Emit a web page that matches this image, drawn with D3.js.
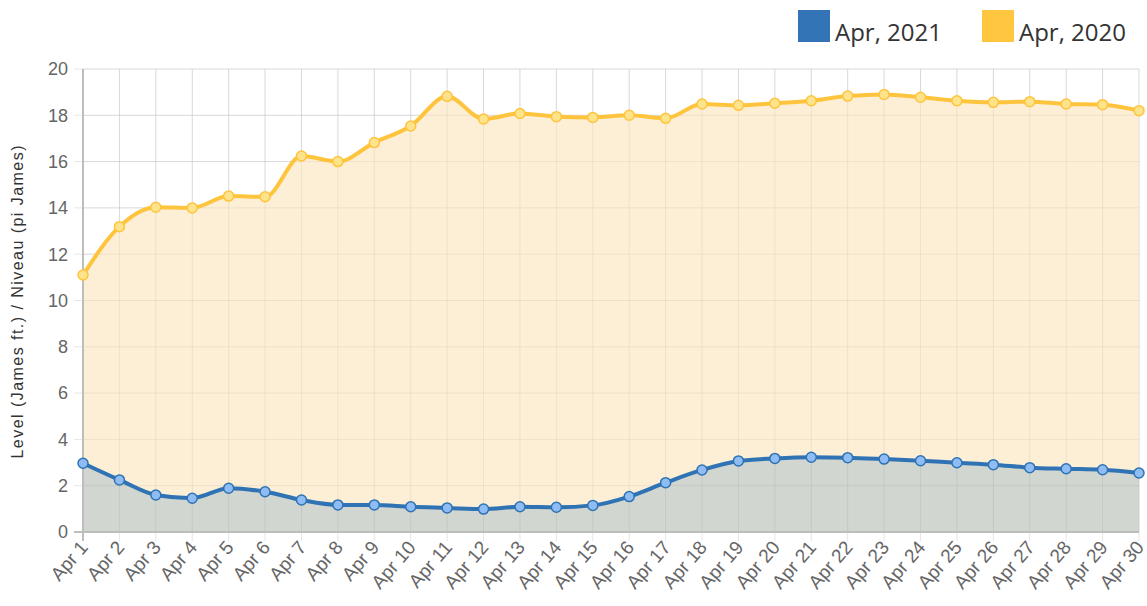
<!DOCTYPE html>
<html lang="en">
<head>
<meta charset="UTF-8">
<title>Level chart</title>
<style>
  body { margin: 0; background: #fff; }
  svg { display: block; font-family: "Liberation Sans", Arial, sans-serif; }
</style>
</head>
<body>
<script src="https://d3js.org/d3.v7.min.js"></script>
<script>
// data
var days = ["Apr 1","Apr 2","Apr 3","Apr 4","Apr 5","Apr 6","Apr 7","Apr 8","Apr 9","Apr 10",
  "Apr 11","Apr 12","Apr 13","Apr 14","Apr 15","Apr 16","Apr 17","Apr 18","Apr 19","Apr 20",
  "Apr 21","Apr 22","Apr 23","Apr 24","Apr 25","Apr 26","Apr 27","Apr 28","Apr 29","Apr 30"];
var level2021 = [2.97, 2.25, 1.6, 1.46, 1.89, 1.74, 1.38, 1.17, 1.17, 1.09,
  1.04, 0.99, 1.09, 1.07, 1.15, 1.53, 2.13, 2.68, 3.07, 3.18,
  3.23, 3.21, 3.15, 3.08, 2.99, 2.91, 2.78, 2.73, 2.69, 2.55];
var level2020 = [11.1, 13.19, 14.03, 14.0, 14.51, 14.48, 16.24, 16.0, 16.82, 17.54,
  18.82, 17.84, 18.08, 17.94, 17.91, 18.0, 17.87, 18.49, 18.43, 18.52,
  18.63, 18.83, 18.9, 18.78, 18.63, 18.56, 18.59, 18.49, 18.46, 18.2];
var yTicks = [0, 2, 4, 6, 8, 10, 12, 14, 16, 18, 20];
var seriesNames = ["Apr, 2021", "Apr, 2020"];

var width = 1147, height = 606;
var plotLeft = 83, plotRight = 1139, plotTop = 69, plotBottom = 532;

var svg = d3.select("body").append("svg").attr("width", width).attr("height", height);

var x = d3.scalePoint().domain(days).range([plotLeft, plotRight]);
var y = d3.scaleLinear().domain([0, 20]).range([plotBottom, plotTop]);

// grid
svg.append("g").selectAll("line").data(yTicks).enter().append("line")
  .attr("x1", plotLeft - 9).attr("x2", plotRight)
  .attr("y1", function (d) { return y(d); }).attr("y2", function (d) { return y(d); })
  .attr("stroke", "#e6e6e6");
svg.append("g").selectAll("line").data(days).enter().append("line")
  .attr("x1", function (d) { return x(d); }).attr("x2", function (d) { return x(d); })
  .attr("y1", plotTop).attr("y2", plotBottom + 9)
  .attr("stroke", "#e6e6e6");

// areas
var curve = d3.curveMonotoneX;
var area = d3.area().x(function (d, i) { return x(days[i]); }).y0(y(0))
  .y1(function (d) { return y(d); }).curve(curve);
var line = d3.line().x(function (d, i) { return x(days[i]); })
  .y(function (d) { return y(d); }).curve(curve);

svg.append("path").datum(level2020).attr("d", area).attr("fill", "#fdefd6");
svg.append("path").datum(level2021).attr("d", area).attr("fill", "#d1d6d0");

// grid seen through the fills
svg.append("g").selectAll("line").data(yTicks.slice(1)).enter().append("line")
  .attr("x1", plotLeft).attr("x2", plotRight)
  .attr("y1", function (d) { return y(d); }).attr("y2", function (d) { return y(d); })
  .attr("stroke", "rgba(0,0,0,0.06)");
svg.append("g").selectAll("line").data(days.slice(1)).enter().append("line")
  .attr("x1", function (d) { return x(d); }).attr("x2", function (d) { return x(d); })
  .attr("y1", plotTop).attr("y2", plotBottom)
  .attr("stroke", "rgba(0,0,0,0.06)");

// axis lines
svg.append("line").attr("x1", plotLeft).attr("x2", plotLeft).attr("y1", plotTop).attr("y2", plotBottom + 9)
  .attr("stroke", "#bdbdbd").attr("stroke-width", 2);
svg.append("line").attr("x1", plotLeft - 9).attr("x2", plotRight).attr("y1", plotBottom).attr("y2", plotBottom)
  .attr("stroke", "#bdbdbd").attr("stroke-width", 2);

// lines + points
var series = [
  { vals: level2020, line: "#ffc43d", dot: "#fde38c" },
  { vals: level2021, line: "#2f73b5", dot: "#8fbdf3" }
];
series.forEach(function (s) {
  svg.append("path").datum(s.vals).attr("d", line)
    .attr("fill", "none").attr("stroke", s.line).attr("stroke-width", 4);
  svg.append("g").selectAll("circle").data(s.vals).enter().append("circle")
    .attr("cx", function (d, i) { return x(days[i]); })
    .attr("cy", function (d) { return y(d); })
    .attr("r", 5).attr("fill", s.dot).attr("stroke", s.line).attr("stroke-width", 1.5);
});

// y labels
svg.append("g").selectAll("text").data(yTicks).enter().append("text")
  .attr("x", plotLeft - 15).attr("y", function (d) { return y(d); })
  .attr("dy", "0.35em").attr("text-anchor", "end")
  .attr("font-size", 18).attr("fill", "#666")
  .text(function (d) { return d; });

svg.append("text")
  .attr("transform", "translate(23,302) rotate(-90)")
  .attr("text-anchor", "middle").attr("font-size", 16).attr("fill", "#333")
  .attr("textLength", 313).attr("lengthAdjust", "spacing")
  .text("Level (James ft.) / Niveau (pi James)");

// x labels
svg.append("g").selectAll("text").data(days).enter().append("text")
  .attr("transform", function (d) { return "translate(" + (x(d) + 6) + "," + (plotBottom + 16) + ") rotate(-49)"; })
  .attr("text-anchor", "end")
  .attr("font-size", 19).attr("fill", "#666")
  .text(function (d) { return d; });

// legend
var legendX = [798, 982];
var legendColors = ["#3274b5", "#ffc63f"];
seriesNames.forEach(function (n, i) {
  svg.append("rect").attr("x", legendX[i]).attr("y", 10).attr("width", 32).attr("height", 32)
    .attr("fill", legendColors[i]);
  svg.append("text").attr("x", legendX[i] + 37).attr("y", 41)
    .attr("font-family", "'Open Sans', sans-serif")
    .attr("font-size", 24).attr("fill", "#333").text(n);
});
</script>
</body>
</html>
